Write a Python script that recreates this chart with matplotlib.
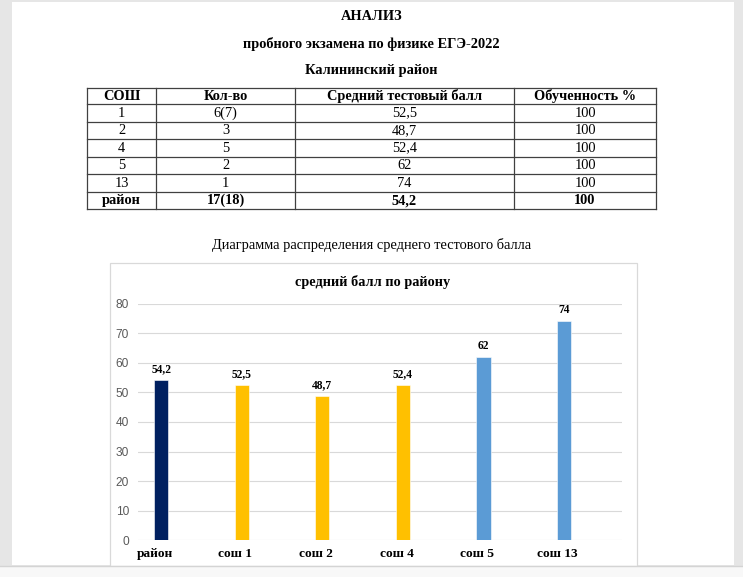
import matplotlib
matplotlib.use("Agg")
import matplotlib.pyplot as plt
from matplotlib.patches import Rectangle
from matplotlib.lines import Line2D

# table data
table_header = ["СОШ", "Кол-во", "Средний тестовый балл", "Обученность %"]
schools = ["1", "2", "4", "5", "13"]
counts = ["6(7)", "3", "5", "2", "1"]
avg_scores = [52.5, 48.7, 52.4, 62, 74]
success = [100, 100, 100, 100, 100]
total_row = ["район", "17(18)", "54,2", "100"]

# chart data
categories = ["район", "сош 1", "сош 2", "сош 4", "сош 5", "сош 13"]
chart_values = [54.2, 52.5, 48.7, 52.4, 62, 74]
bar_colors = ["#002060", "#FFC000", "#FFC000", "#FFC000", "#5B9BD5", "#5B9BD5"]

W, H = 743, 577
SERIF = ["Liberation Serif", "DejaVu Serif"]
FS = 10.4


def fx(x):
    return x / W


def fy(y):
    return 1 - y / H


def comma(v):
    return f"{v:g}".replace(".", ",")


fig = plt.figure(figsize=(W / 100, H / 100), dpi=100)
fig.patch.set_facecolor("#e6e6e6")

# page
fig.add_artist(Rectangle((fx(12), fy(565)), fx(734) - fx(12), fy(2) - fy(565),
                         transform=fig.transFigure, facecolor="white", edgecolor="none", zorder=0))

# headings
fig.text(0.5, fy(17), "АНАЛИЗ", ha="center", va="center", family=SERIF, weight="bold", fontsize=FS)
fig.text(0.5, fy(44), "пробного экзамена по физике ЕГЭ-2022", ha="center", va="center",
         family=SERIF, weight="bold", fontsize=FS)
fig.text(0.5, fy(70.5), "Калининский район", ha="center", va="center", family=SERIF,
         weight="bold", fontsize=FS)

# table grid
col_edges = [87.3, 156, 295, 514, 656]
row_edges = [87.7, 104.3, 121.8, 139.3, 156.8, 174.3, 191.8, 209.3]
line_kw = dict(transform=fig.transFigure, color="#404040", lw=0.9)
for ye in row_edges:
    fig.add_artist(Line2D([fx(col_edges[0]), fx(col_edges[-1])], [fy(ye), fy(ye)], **line_kw))
for xe in col_edges:
    fig.add_artist(Line2D([fx(xe), fx(xe)], [fy(row_edges[0]), fy(row_edges[-1])], **line_kw))

rows = [table_header]
for s, c, a, p in zip(schools, counts, avg_scores, success):
    rows.append([s, c, comma(a), str(p)])
rows.append(total_row)

for i, row in enumerate(rows):
    yc = (row_edges[i] + row_edges[i + 1]) / 2
    bold = i == 0 or i == len(rows) - 1
    for j, txt in enumerate(row):
        xc = (col_edges[j] + col_edges[j + 1]) / 2
        fig.text(fx(xc), fy(yc), txt, ha="center", va="center", family=SERIF,
                 weight="bold" if bold else "normal", fontsize=FS)

fig.text(0.5, fy(245), "Диаграмма распределения среднего тестового балла", ha="center",
         va="center", family=SERIF, fontsize=FS)

# chart box
fig.add_artist(Rectangle((fx(110), fy(566)), fx(636.7) - fx(110), fy(263) - fy(566),
                         transform=fig.transFigure, facecolor="white", edgecolor="#d9d9d9",
                         lw=0.9, zorder=1))
fig.text(fx(373), fy(282), "средний балл по району", ha="center", va="center", family=SERIF,
         weight="bold", fontsize=10.3, zorder=3)

ax = fig.add_axes([fx(138), fy(540.3), fx(621.7) - fx(138), fy(303.7) - fy(540.3)])
ax.set_zorder(2)
ax.set_facecolor("none")
pos = list(range(len(categories)))
ax.bar(pos, chart_values, width=0.174, color=bar_colors, edgecolor="white", lw=0.4, zorder=3)
for x, v in zip(pos, chart_values):
    ax.annotate(comma(v), (x, v), xytext=(0, 8), textcoords="offset points", ha="center",
                va="center", family=SERIF, weight="bold", fontsize=8.3)

ax.set_xlim(-0.29, 5.716)
ax.set_ylim(0, 80)
ax.set_yticks(range(0, 81, 10))
ax.grid(axis="y", color="#d9d9d9", lw=0.8, zorder=0)
for sp in ax.spines.values():
    sp.set_visible(False)
ax.tick_params(axis="y", length=0, pad=6.5, labelsize=8.6, labelcolor="#595959")
ax.set_xticks([p - 0.08 for p in pos])
ax.set_xticklabels(categories, family=SERIF, weight="bold", fontsize=9.6)
ax.tick_params(axis="x", length=0, pad=5.8)
for lab in ax.get_yticklabels():
    lab.set_family(["Liberation Sans", "DejaVu Sans"])

# bottom strip below the page break
fig.add_artist(Rectangle((0, 0), 1, fy(566), transform=fig.transFigure,
                         facecolor="#f8f8f8", edgecolor="none", zorder=5))
fig.add_artist(Line2D([0, 1], [fy(566), fy(566)], transform=fig.transFigure,
                      color="#d4d4d4", lw=1, zorder=6))

fig.savefig("out.png", dpi=100, facecolor=fig.get_facecolor())
